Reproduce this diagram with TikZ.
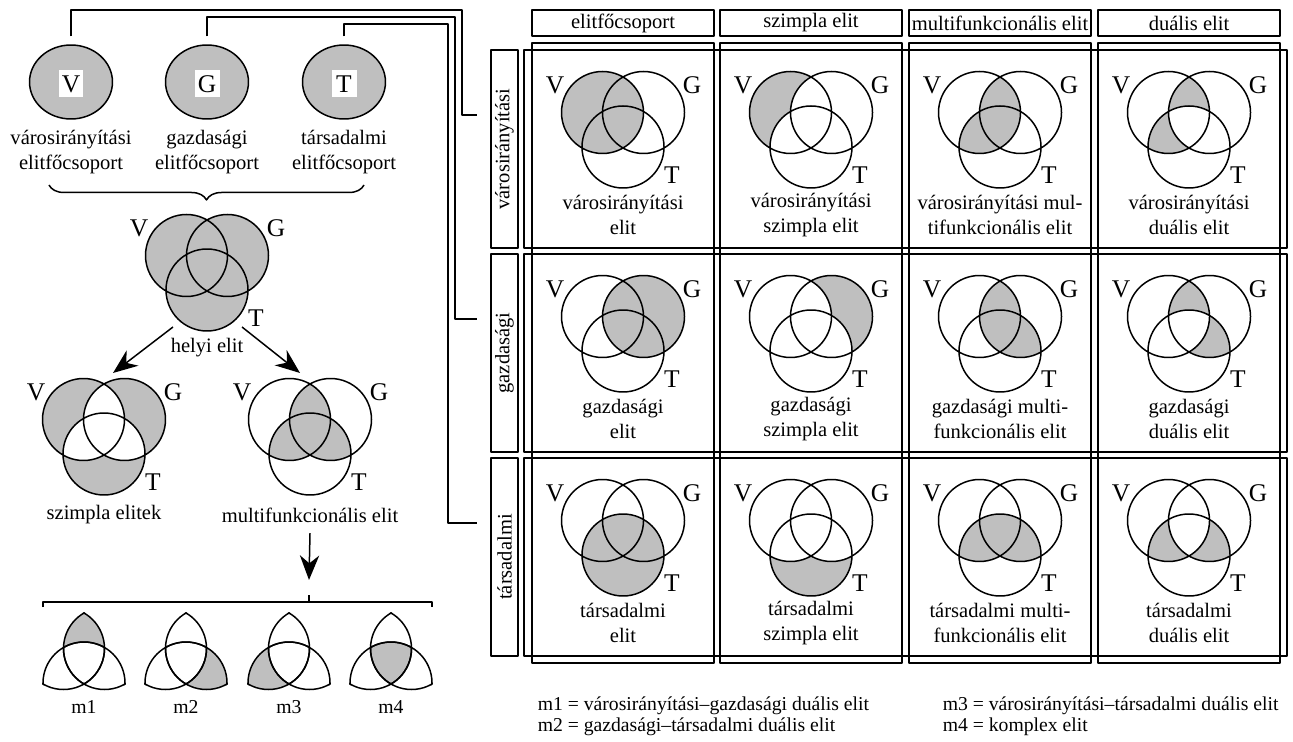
\documentclass[tikz,border=0pt]{standalone}
\usepackage{fontspec}
\setmainfont{Liberation Serif}
\usetikzlibrary{arrows.meta,shapes.geometric,decorations.pathreplacing}

\newcommand{\venn}[4]{%
  \coordinate (#1) at (#2,#3);
  \begin{scope}[shift={(#1)}]
    #4
    \draw \cV \cG \cT;
    \node[lab] (#1V) at (-68,-39) {V};
    \node[lab] (#1G) at (69,-39) {G};
    \node[lab] (#1T) at (49,51) {T};
  \end{scope}}
\newcommand{\mfig}[4]{%
  \coordinate (#1) at (#2,660);
  \begin{scope}[shift={(#1)}]
    #3
    \begin{scope} \clip \kV; \draw \cG \cT; \end{scope}
    \begin{scope} \clip \kG; \draw \cV \cT; \end{scope}
    \begin{scope} \clip \kT; \draw \cV \cG; \end{scope}
    \node[mlab] (#1lab) at (0,47) {#4};
  \end{scope}}

\begin{document}
\begin{tikzpicture}[x=0.02cm, y=-0.02cm, line width=0.85pt, line join=round,
    font=\fontsize{11.7}{14.7}\selectfont,
    >={Stealth[length=14pt,width=11pt,inset=4.5pt]},
    tone/.style={fill=black!25},
    captxt/.style={align=center, inner sep=0pt},
    lab/.style={font=\fontsize{14.5}{16}\selectfont, inner sep=0pt},
    mlab/.style={font=\fontsize{11.2}{13}\selectfont, inner sep=0pt},
    head/.style={draw, minimum width=3.64cm, minimum height=0.52cm, inner sep=0pt},
    rowlab/.style={draw, rotate=90, minimum width=3.96cm, minimum height=0.54cm, inner sep=0pt}]
  \useasboundingbox (0,0) rectangle (1293,742);
  \def\cV{(-20.5,-11.5) circle [radius=41]}
  \def\cG{(20.5,-11.5) circle [radius=41]}
  \def\cT{(0,23) circle [radius=41]}
  \def\kV{(-20.5,-11.5) circle [radius=41.8]}
  \def\kG{(20.5,-11.5) circle [radius=41.8]}
  \def\kT{(0,23) circle [radius=41.8]}

  % elite main groups
  \foreach \x/\n/\t in {71/V/városirányítási, 207/G/gazdasági, 344/T/társadalmi}{
    \node[draw, ellipse, tone, minimum width=1.66cm, minimum height=1.48cm, inner sep=0pt] (e\n) at (\x,82) {};
    \node[lab, fill=white, minimum width=0.5cm, minimum height=0.54cm] (b\n) at (\x,84) {\n};
    \node[captxt] (g\n) at (\x,152) {\t\\elitfőcsoport};
  }
  \draw[decorate, decoration={brace, mirror, amplitude=0.3cm}] (49,185) -- (364,185);

  \venn{helyi}{207}{267}{\fill[tone] \cV \cG \cT;}
  \node[captxt] (thelyi) at (207,348) {helyi elit};
  \venn{szim}{104}{431}{\fill[tone, even odd rule] \cV \cG \cT;
    \begin{scope} \clip \cV; \clip \cG; \fill[white] \cT; \end{scope}}
  \node[captxt] (tszim) at (104,515) {szimpla elitek};
  \venn{multi}{310}{431}{\begin{scope} \clip \cV; \fill[tone] \cG \cT; \end{scope}
    \begin{scope} \clip \cG; \fill[tone] \cT; \end{scope}}
  \node[captxt] (tmulti) at (310,515) {multifunkcionális elit};
  \draw[->] ([shift={(-34,60)}]helyi) -- ([shift={(9,-58)}]szim);
  \draw[->] ([shift={(35,60)}]helyi) -- ([shift={(-10,-58)}]multi);

  \coordinate (mtop) at (309,595);
  \draw[->] ([yshift=-0.2cm]tmulti.south) -- ([yshift=0.3cm]mtop);
  \draw (mtop) -- (309,602);
  \draw (43,607) -- (43,602) -- (432,602) -- (432,607);

  \mfig{m1}{84}{\begin{scope} \clip \cV; \clip \cG; \fill[tone, even odd rule] (-60,-60) rectangle (60,60) \cT; \end{scope}}{m1}
  \mfig{m2}{186}{\begin{scope} \clip \cG; \clip \cT; \fill[tone, even odd rule] (-60,-60) rectangle (60,60) \cV; \end{scope}}{m2}
  \mfig{m3}{289}{\begin{scope} \clip \cV; \clip \cT; \fill[tone, even odd rule] (-60,-60) rectangle (60,60) \cG; \end{scope}}{m3}
  \mfig{m4}{391}{\begin{scope} \clip \cV; \clip \cG; \fill[tone] \cT; \end{scope}}{m4}

  % grid
  \foreach \cx/\t [count=\i] in {623/elitfőcsoport, 811/szimpla elit, 1000/multifunkcionális elit, 1189/duális elit}{
    \node[head] (h\i) at (\cx,23) {\t};
    \draw (\cx-91,43) rectangle (\cx+91,663);
  }
  \foreach \r/\ry/\X/\Y/\Z/\nm/\ma/\mb in {1/50/V/G/T/városirányítási/városirányítási mul-/tifunkcionális elit,
      2/254/G/V/T/gazdasági/gazdasági multi-/funkcionális elit,
      3/458/T/V/G/társadalmi/társadalmi multi-/funkcionális elit}{
    \expandafter\let\expandafter\cX\csname c\X\endcsname
    \expandafter\let\expandafter\cY\csname c\Y\endcsname
    \expandafter\let\expandafter\cZ\csname c\Z\endcsname
    \draw (524,\ry) rectangle (1287,\ry+198);
    \node[rowlab] (r\r) at (504.5,\ry+99) {\nm};
    \coordinate (in\r) at (477,\ry+65);
    \venn{v\r-1}{623}{\ry+74}{\fill[tone] \cX;}
    \venn{v\r-2}{811}{\ry+74}{\fill[tone] \cX; \fill[white] \cY; \fill[white] \cZ;}
    \venn{v\r-3}{1000}{\ry+74}{\begin{scope} \clip \cX; \fill[tone] \cY \cZ; \end{scope}}
    \venn{v\r-4}{1189}{\ry+74}{\begin{scope} \clip \cX; \fill[tone, even odd rule] \cY \cZ; \end{scope}}
    \node[captxt] (t\r-1) at (623,\ry+165) {\nm\\elit};
    \node[captxt] (t\r-2) at (811,\ry+165) {\nm\\szimpla elit};
    \node[captxt] (t\r-3) at (1000,\ry+165) {\ma\\\mb};
    \node[captxt] (t\r-4) at (1189,\ry+165) {\nm\\duális elit};
  }

  \draw ([yshift=0.16cm]eV.north) |- (462,10) |- (in1);
  \draw ([yshift=0.16cm]eG.north) |- (455,17) |- (in2);
  \draw ([yshift=0.16cm]eT.north) |- (448,24) |- (in3);

  % legend
  \node[mlab, anchor=west] (k1) at (537,706) {m1 = városirányítási–gazdasági duális elit};
  \node[mlab, anchor=west] (k2) at (537,727) {m2 = gazdasági–társadalmi duális elit};
  \node[mlab, anchor=west] (k3) at (942,706) {m3 = városirányítási–társadalmi duális elit};
  \node[mlab, anchor=west] (k4) at (942,727) {m4 = komplex elit};
\end{tikzpicture}
\end{document}
